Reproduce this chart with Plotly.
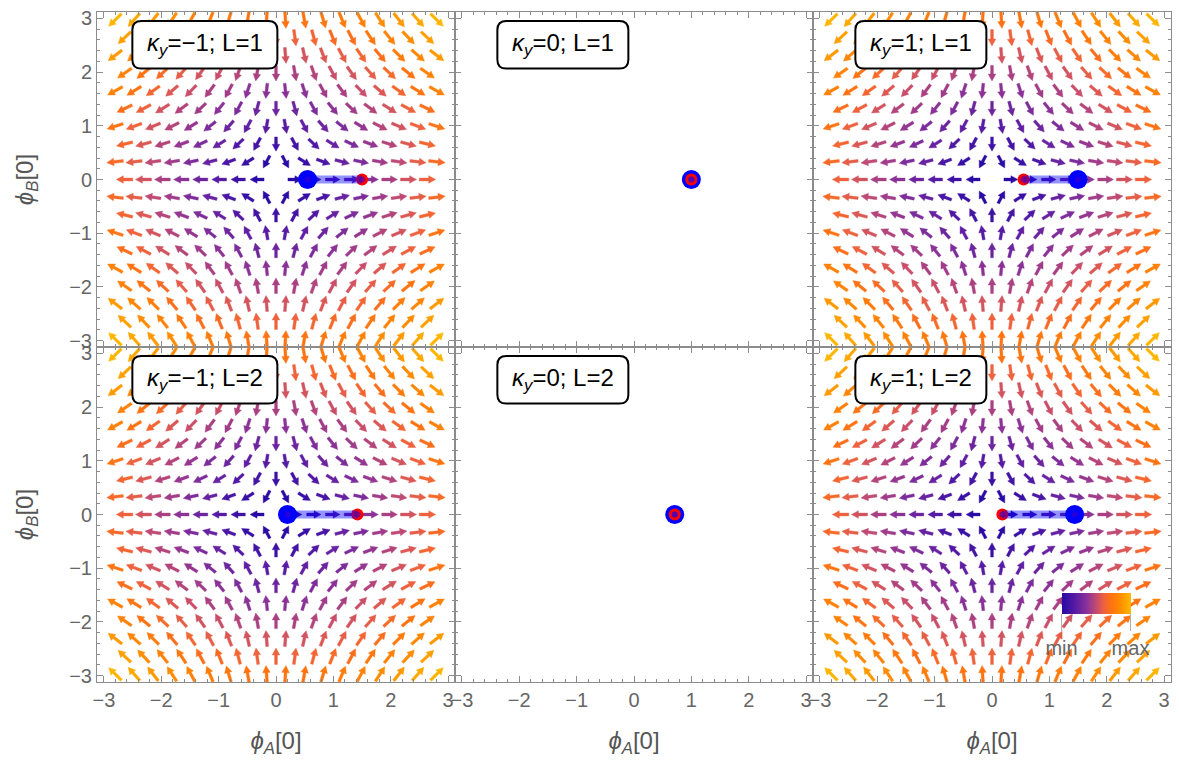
import numpy as np
import plotly.graph_objects as go
from plotly.subplots import make_subplots
from plotly.colors import sample_colorscale

# ---------------- data ----------------
kappa_y = [-1, 0, 1]                 # columns
L_values = [1, 2]                    # rows
# start (blue) and end (red) of the trajectory in phi_A[0], on phi_B[0] = 0
blue_phiA_L1 = [0.55, 1.00, 1.50]
red_phiA_L1 = [1.50, 1.00, 0.55]
blue_phiA_L2 = [0.20, 0.71, 1.44]
red_phiA_L2 = [1.42, 0.71, 0.18]
phiB_traj = 0.0

# arrow sample grid of the vector field (staggered rows)
grid_step = 0.33
row_ks = list(range(-9, 10))
even_row_ms = list(range(-8, 9))
odd_row_ms = [m + 0.5 for m in range(-9, 9)]
field_sign = [1.0, -1.0]             # arrows: dphiA ~ +phiA, dphiB ~ -phiB (saddle)
field_for_kappa = [-1, 1]            # panels that show the field

tick_vals = [-3, -2, -1, 0, 1, 2, 3]
legend_labels = ["min", "max"]

# ---------------- layout constants ----------------
W, H = 1179, 773
ML, MR, MT, MB = 97, 8, 7, 91
RNG = 3.12
ppx = (W - ML - MR) / 3 / (2 * RNG)
ppy = (H - MT - MB) / 2 / (2 * RNG)

CS = [[0.0, 'rgb(40,10,165)'], [0.18, 'rgb(85,26,165)'], [0.36, 'rgb(138,50,152)'],
      [0.5, 'rgb(196,76,112)'], [0.61, 'rgb(238,98,62)'], [0.71, 'rgb(255,114,18)'],
      [0.85, 'rgb(255,142,0)'], [1.0, 'rgb(255,186,0)']]
GRAY = '#8c8c8c'
FONT = 'Liberation Sans, Arial, sans-serif'

# ---------------- arrows ----------------
px_list, py_list = [], []
for k in row_ks:
    ms = even_row_ms if k % 2 == 0 else odd_row_ms
    for m in ms:
        px_list.append(m * grid_step)
        py_list.append(k * grid_step)
gx = np.array(px_list)
gy = np.array(py_list)
vx = field_sign[0] * gx
vy = field_sign[1] * gy
mag = np.hypot(vx, vy)
keep = mag > 1e-9
gx, gy, vx, vy, mag = gx[keep], gy[keep], vx[keep], vy[keep], mag[keep]
tnorm = (mag - mag.min()) / (mag.max() - mag.min())

NB = 40
bins = np.minimum((tnorm * NB).astype(int), NB - 1)


def arrow_poly(cx, cy, dx, dy, t):
    sx, sy = dx * ppx, dy * ppy
    n = np.hypot(sx, sy)
    ux, uy = sx / n, sy / n
    nx, ny = -uy, ux
    L = 14.0 + 4.0 * t
    w, hw, hl = 1.4, 3.8, 7.0
    tail = np.array([-ux * L / 2, -uy * L / 2])
    tip = np.array([ux * L / 2, uy * L / 2])
    base = tip - np.array([ux, uy]) * hl
    nvec = np.array([nx, ny])
    pts = [tail + nvec * w, base + nvec * w, base + nvec * hw, tip,
           base - nvec * hw, base - nvec * w, tail - nvec * w, tail + nvec * w]
    xs = [cx + p[0] / ppx for p in pts]
    ys = [cy + p[1] / ppy for p in pts]
    return xs, ys


polys = {}
for i in range(len(gx)):
    xs, ys = arrow_poly(gx[i], gy[i], vx[i], vy[i], tnorm[i])
    b = bins[i]
    polys.setdefault(b, ([], []))
    polys[b][0].extend(xs + [None])
    polys[b][1].extend(ys + [None])

fig = make_subplots(rows=2, cols=3, horizontal_spacing=0, vertical_spacing=0)

blue_rows = {1: blue_phiA_L1, 2: blue_phiA_L2}
red_rows = {1: red_phiA_L1, 2: red_phiA_L2}

label_w_px = {-1: 145, 0: 131, 1: 131}
box_cx, box_cy, box_h_px, rad_px = -1.24, 2.51, 48, 9

for r, Lv in enumerate(L_values, start=1):
    for c, kv in enumerate(kappa_y, start=1):
        if kv in field_for_kappa:
            for b in sorted(polys):
                col = sample_colorscale(CS, [(b + 0.5) / NB])[0]
                fig.add_trace(go.Scatter(x=polys[b][0], y=polys[b][1], mode='lines',
                                         fill='toself', fillcolor=col,
                                         line=dict(width=0.4, color=col),
                                         hoverinfo='skip', showlegend=False),
                              row=r, col=c)
        xb = blue_rows[Lv][c - 1]
        xr = red_rows[Lv][c - 1]
        fig.add_trace(go.Scatter(x=[xb], y=[phiB_traj], mode='markers',
                                 marker=dict(size=19, color='rgb(0,0,255)'),
                                 hoverinfo='skip'), row=r, col=c)
        fig.add_trace(go.Scatter(x=[xr], y=[phiB_traj], mode='markers',
                                 marker=dict(size=12, color='rgb(255,0,0)'),
                                 hoverinfo='skip'), row=r, col=c)
        fig.add_trace(go.Scatter(x=[xb, xr], y=[phiB_traj, phiB_traj], mode='lines+markers',
                                 line=dict(width=8, color='rgba(0,0,255,0.42)'),
                                 marker=dict(size=6, color='rgba(60,0,200,0.6)'),
                                 hoverinfo='skip'), row=r, col=c)

        # rounded label box
        idx = (r - 1) * 3 + c
        xref = 'x' if idx == 1 else f'x{idx}'
        yref = 'y' if idx == 1 else f'y{idx}'
        hw = label_w_px[kv] / 2 / ppx
        hh = box_h_px / 2 / ppy
        rx, ry = rad_px / ppx, rad_px / ppy
        x0, x1 = box_cx - hw, box_cx + hw
        y0, y1 = box_cy - hh, box_cy + hh
        path = (f"M{x0+rx},{y0} L{x1-rx},{y0} Q{x1},{y0} {x1},{y0+ry} "
                f"L{x1},{y1-ry} Q{x1},{y1} {x1-rx},{y1} L{x0+rx},{y1} "
                f"Q{x0},{y1} {x0},{y1-ry} L{x0},{y0+ry} Q{x0},{y0} {x0+rx},{y0} Z")
        fig.add_shape(type='path', path=path, xref=xref, yref=yref,
                      line=dict(color='black', width=2), fillcolor='white', layer='above')
        kt = str(kv).replace('-', '\u2212')
        fig.add_annotation(x=box_cx, y=box_cy, xref=xref, yref=yref, showarrow=False,
                           text=f"<i>\u03ba</i><sub><i>y</i></sub>={kt}; L={Lv}",
                           font=dict(family=FONT, size=24, color='black'))

# colour legend (hosted by an invisible marker trace)
fig.add_trace(go.Scatter(x=[0, 0], y=[0, 0], mode='markers',
                         marker=dict(size=1, opacity=0, color=[0, 1], cmin=0, cmax=1,
                                     colorscale=CS, showscale=True,
                                     colorbar=dict(orientation='h', x=(1096 - ML) / (W - ML - MR),
                                                   xanchor='center',
                                                   y=(H - MB - 592) / (H - MT - MB), yanchor='top',
                                                   thickness=21, len=69, lenmode='pixels',
                                                   tickvals=[0, 1], ticktext=legend_labels,
                                                   ticks='outside', ticklen=17, tickwidth=1,
                                                   tickcolor='#b0b0b0',
                                                   outlinewidth=0, xpad=0, ypad=0,
                                                   tickfont=dict(family=FONT, size=20, color='#666666'))),
                         hoverinfo='skip'), row=2, col=3)

axis_common = dict(range=[-RNG, RNG], showline=True, linecolor=GRAY, linewidth=1,
                   mirror='allticks', ticks='inside', ticklen=6, tickwidth=1, tickcolor=GRAY,
                   tickmode='array', tickvals=tick_vals, showgrid=False, zeroline=False,
                   minor=dict(ticks='inside', ticklen=3, tickcolor=GRAY, tickwidth=1,
                              dtick=0.2, tick0=0, showgrid=False),
                   tickfont=dict(family=FONT, size=20, color='#666666'))

title_font = dict(family=FONT, size=24, color='#555555')
for r in (1, 2):
    for c in (1, 2, 3):
        fig.update_xaxes(**axis_common, showticklabels=(r == 2), row=r, col=c)
        fig.update_yaxes(**axis_common, showticklabels=(c == 1), row=r, col=c)
        if r == 2:
            fig.update_xaxes(title=dict(text="<i>\u03d5</i><sub><i>A</i></sub>[0]", font=title_font,
                                        standoff=22), row=r, col=c)
        if c == 1:
            fig.update_yaxes(title=dict(text="<i>\u03d5</i><sub><i>B</i></sub>[0]", font=title_font,
                                        standoff=28), row=r, col=c)

fig.update_layout(width=W, height=H, margin=dict(l=ML, r=MR, t=MT, b=MB),
                  plot_bgcolor='white', paper_bgcolor='white', showlegend=False)

fig.write_html("out.html")
